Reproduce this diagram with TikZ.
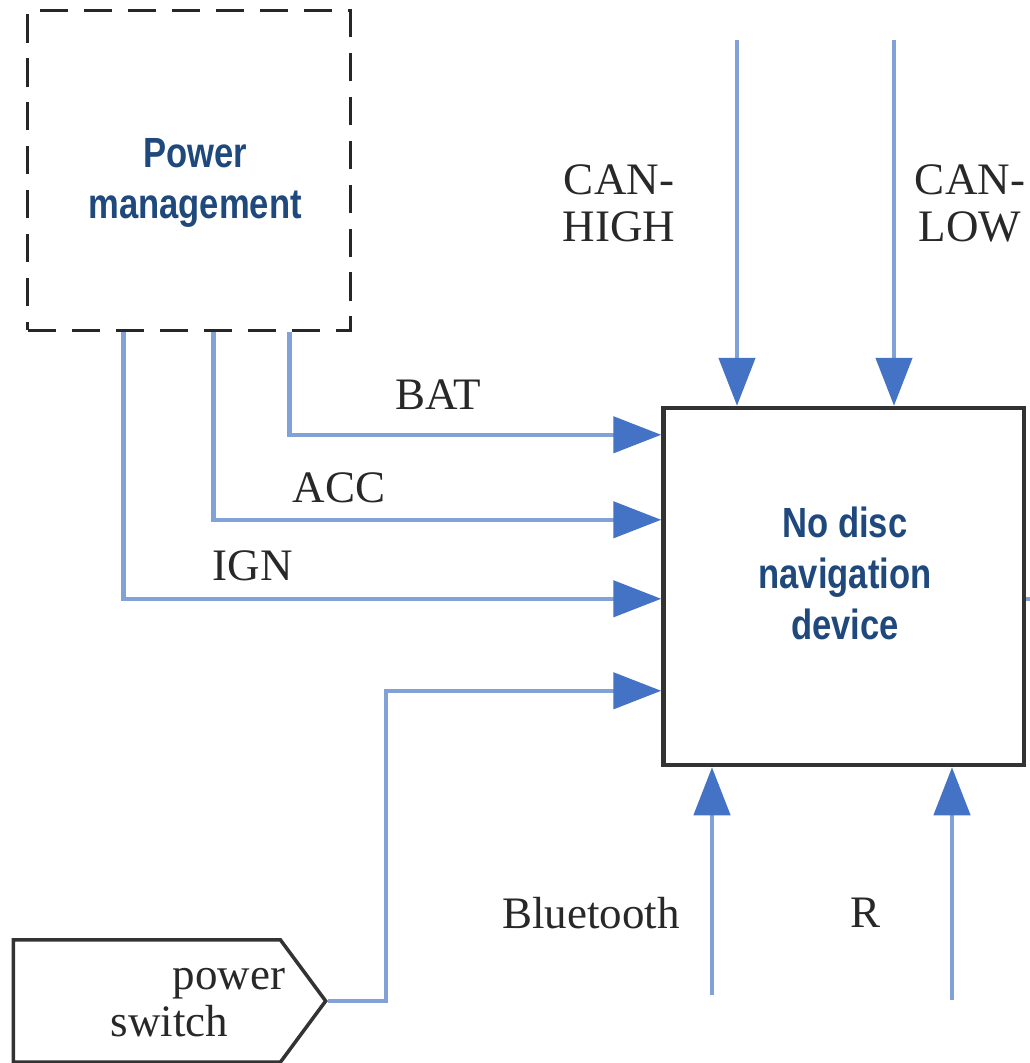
\documentclass[tikz,border=0pt]{standalone}
\usepackage{fontspec}
\setmainfont{Liberation Serif}
\newfontfamily\narrowsans[FakeStretch=0.82]{Liberation Sans}
\usetikzlibrary{positioning, calc, arrows.meta, shapes.symbols}
\definecolor{darkblue}{RGB}{31,73,125}
\definecolor{lineblue}{RGB}{130,162,215}
\definecolor{tipblue}{RGB}{68,114,196}
\definecolor{textgray}{RGB}{40,40,40}

\begin{document}
\begin{tikzpicture}[
        x=0.01cm, y=-0.01cm,
        block/.style={rectangle, draw=black!80, line width=1.2pt, minimum width=3.6cm, minimum height=3.57cm},
        dashblock/.style={rectangle, draw=black!85, line width=0.9pt, dash pattern=on 8pt off 4.5pt, minimum width=3.22cm, minimum height=3.19cm},
        switchbox/.style={signal, signal to=east, signal pointer angle=107, draw=black!80, line width=1pt, minimum width=3.12cm, minimum height=1.22cm},
        title/.style={font=\narrowsans\bfseries\fontsize{12}{14.5}\selectfont, text=darkblue, align=center},
        tag/.style={font=\fontsize{12.8}{13.4}\selectfont, text=textgray, align=center, inner sep=0pt},
        sig/.style={draw=lineblue, line width=1.3pt},
        arr/.style={sig, -{Triangle[length=0.48cm, width=0.36cm, color=tipblue]}}
    ]
    \useasboundingbox (0,0) rectangle (1030,1063);

    % blocks
    \node[dashblock] (PM) at (189,170.5) {};
    \node[title] (PMtext) at (195,183) {Power\\management};
    \node[block] (ND) at (843.5,586.5) {};
    \node[title] (NDtext) at (845,573) {No disc\\navigation\\device};
    \node[switchbox] (PS) at (147,1001) {};
    \node[tag, align=left, anchor=west] (PStext) at (110,1003) {\hspace*{0.62cm}power\\switch};

    % supply lines
    \draw[arr] ($(PM.south west)+(263,0)$) |- ($(ND.north west)+(0,29)$);
    \draw[arr] ($(PM.south west)+(187,0)$) |- ($(ND.north west)+(0,114)$);
    \draw[arr] ($(PM.south west)+(97,0)$) |- ($(ND.north west)+(0,193)$);
    \draw[arr] (PS.east) -- ++(58,0) |- ($(ND.north west)+(0,285)$);
    \node[tag] (lblBAT) at (438,395) {BAT};
    \node[tag] (lblACC) at (339,488) {ACC};
    \node[tag] (lblIGN) at (253,566) {IGN};

    % bus lines
    \coordinate (canH) at (737,40);
    \coordinate (canL) at (894,40);
    \draw[arr] (canH) -- (canH |- ND.north);
    \draw[arr] (canL) -- (canL |- ND.north);
    \node[tag] (lblCANH) at (619,203) {CAN-\\HIGH};
    \node[tag] (lblCANL) at (970,203) {CAN-\\LOW};

    % bottom inputs
    \coordinate (bt) at (712,995);
    \coordinate (rev) at (952,1000);
    \draw[arr] (bt) -- (bt |- ND.south);
    \draw[arr] (rev) -- (rev |- ND.south);
    \node[tag] (lblBT) at (591,913) {Bluetooth};
    \node[tag] (lblR) at (866,913) {R};

    \draw[sig] ($(ND.north east)+(0,193)$) -- ++(10,0);
\end{tikzpicture}
\end{document}
